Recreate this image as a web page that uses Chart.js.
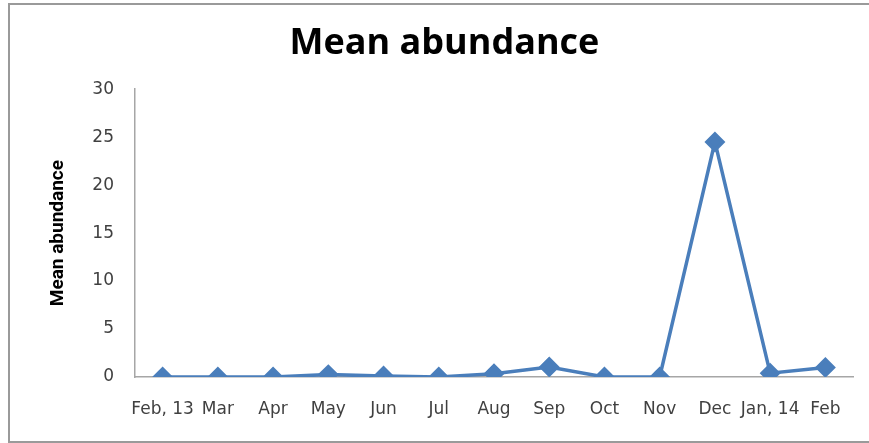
<!DOCTYPE html>
<html>
<head>
<meta charset="utf-8">
<script src="https://cdn.jsdelivr.net/npm/chart.js@4/dist/chart.umd.min.js"></script>
<style>
  html, body { margin: 0; padding: 0; background: #ffffff; overflow: hidden; }
  #wrap { position: relative; width: 869px; height: 443px; overflow: hidden; }
  #frame { position: absolute; left: 8px; top: 3px; width: 880px; height: 440px; border: 2px solid #9a9a9a; box-sizing: border-box; pointer-events: none; }
  canvas { position: absolute; left: 0; top: 0; }
</style>
</head>
<body>
<div id="wrap">
  <canvas id="c" width="869" height="443"></canvas>
  <div id="frame"></div>
</div>
<script>
const categories = ["Feb, 13", "Mar", "Apr", "May", "Jun", "Jul", "Aug", "Sep", "Oct", "Nov", "Dec", "Jan, 14", "Feb"];
const meanAbundance = [0, 0, 0, 0.25, 0.1, 0, 0.35, 1.05, 0, 0, 24.5, 0.4, 1.0];
const yTicks = [0, 5, 10, 15, 20, 25, 30];

const blue = '#4a7ebb';
const tickFont = { family: "'DejaVu Sans', sans-serif", size: 17 };

new Chart(document.getElementById('c'), {
  type: 'line',
  data: {
    labels: categories,
    datasets: [{
      label: 'Mean abundance',
      data: meanAbundance,
      borderColor: blue,
      backgroundColor: blue,
      borderWidth: 3.5,
      pointStyle: 'rectRot',
      pointRadius: 8,
      pointHoverRadius: 8,
      pointBackgroundColor: blue,
      pointBorderColor: blue,
      tension: 0
    }]
  },
  options: {
    responsive: false,
    animation: false,
    devicePixelRatio: 1,
    layout: { padding: { left: 36, right: 16, top: 0, bottom: 0 } },
    plugins: {
      legend: { display: false },
      tooltip: { enabled: false },
      title: {
        display: true,
        text: 'Mean abundance',
        color: '#000000',
        font: { family: "'Open Sans', 'DejaVu Sans', sans-serif", size: 36, weight: 'bold', lineHeight: 1.2 },
        padding: { top: 22, bottom: 24 }
      }
    },
    scales: {
      x: {
        type: 'category',
        offset: true,
        grid: { display: false, drawTicks: false },
        border: { display: true, color: '#a6a6a6', width: 1.5 },
        ticks: { color: '#404040', font: tickFont, padding: 22, autoSkip: false, maxRotation: 0, minRotation: 0 },
        afterFit: (s) => { s.height = 66; }
      },
      y: {
        min: 0,
        max: 30,
        afterBuildTicks: (s) => { s.ticks = yTicks.map(v => ({ value: v })); },
        grid: { display: false, drawTicks: false },
        border: { display: true, color: '#a6a6a6', width: 1.5 },
        ticks: { color: '#404040', font: tickFont, padding: 21 },
        title: {
          display: true,
          text: 'Mean abundance',
          color: '#000000',
          font: { family: "'Liberation Sans Narrow', 'Roboto', sans-serif", size: 19, weight: 'bold' },
          padding: { top: 11, bottom: 0 }
        },
        afterFit: (s) => { s.width = 99; }
      }
    }
  }
});
</script>
</body>
</html>
